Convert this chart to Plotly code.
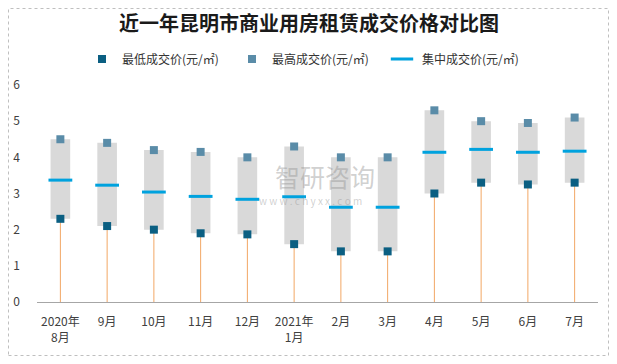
import plotly.graph_objects as go

categories = ["2020年<br>8月", "9月", "10月", "11月", "12月", "2021年<br>1月",
              "2月", "3月", "4月", "5月", "6月", "7月"]
min_price = [2.3, 2.1, 2.0, 1.9, 1.87, 1.6, 1.4, 1.4, 3.0, 3.3, 3.25, 3.3]
max_price = [4.5, 4.4, 4.2, 4.15, 4.0, 4.3, 4.0, 4.0, 5.3, 5.0, 4.95, 5.1]
mid_price = [3.37, 3.23, 3.04, 2.92, 2.84, 2.91, 2.62, 2.62, 4.14, 4.22, 4.14, 4.17]

# page offset of the figure (browser body margin)
OFF = 8
W, H = 617 - 2 * OFF, 364 - 2 * OFF
# plot area in page pixels: x 37..598, y 85..302
ML = 37 - OFF
MR = (617 - OFF) - 598
MT = 85 - OFF
MB = (364 - OFF) - 302
pw = W - ML - MR
ph = H - MT - MB


def px(x):  # page x -> paper x
    return (x - OFF - ML) / pw


def py(y):  # page y -> paper y
    return (H - MB - (y - OFF)) / ph


FONT = "Noto Sans CJK SC"
fig = go.Figure()

sx, sy = [], []
for i, m in enumerate(min_price):
    sx += [i, i, None]
    sy += [0, m, None]
xi = list(range(len(categories)))

fig.add_trace(go.Scatter(x=sx, y=sy, mode="lines", line=dict(color="#F2A765", width=1),
                         showlegend=False, hoverinfo="skip"))

fig.add_trace(go.Bar(x=xi, y=[a - b for a, b in zip(max_price, min_price)],
                     base=min_price, width=0.42, marker=dict(color="#D9D9D9", line=dict(width=0)),
                     showlegend=False, hoverinfo="skip"))

fig.add_trace(go.Scatter(x=xi, y=min_price, mode="markers", name="最低成交价(元/㎡)",
                         marker=dict(symbol="square", size=8, color="#0B5F82")))
fig.add_trace(go.Scatter(x=xi, y=max_price, mode="markers", name="最高成交价(元/㎡)",
                         marker=dict(symbol="square", size=8, color="#5A8CA8")))
fig.add_trace(go.Scatter(x=xi, y=mid_price, mode="markers", name="集中成交价(元/㎡)",
                         marker=dict(symbol="line-ew", size=17,
                                     line=dict(color="#00A2DE", width=3))))

fig.update_layout(
    width=W, height=H,
    margin=dict(l=ML, r=MR, t=MT, b=MB, autoexpand=False),
    paper_bgcolor="white", plot_bgcolor="white",
    font=dict(family=FONT, size=12, color="#404040"),
    title=dict(text="<b>近一年昆明市商业用房租赁成交价格对比图</b>",
               x=(309 - OFF) / W, xanchor="center", y=1 - (24 - OFF) / H, yanchor="middle",
               font=dict(family=FONT, size=20, color="#1a1a1a")),
    legend=dict(orientation="h", x=px(82), xanchor="left",
                y=py(59), yanchor="middle",
                font=dict(family=FONT, size=12, color="#333333"),
                itemwidth=30, entrywidth=105, entrywidthmode="pixels",
                traceorder="normal", bgcolor="rgba(0,0,0,0)"),
    showlegend=True,
)
fig.update_xaxes(range=[-0.5, len(categories) - 0.5], tickmode="array",
                 tickvals=xi, ticktext=categories,
                 showline=True, linecolor="#A6A6A6", linewidth=1, showgrid=False,
                 zeroline=False, ticks="", tickfont=dict(size=12, color="#404040"),
                 ticklabelstandoff=9, automargin=False)
fig.update_yaxes(range=[0, 6], dtick=1, showgrid=False, zeroline=False, showline=False,
                 ticks="", tickfont=dict(size=12, color="#404040"), ticklabelstandoff=16,
                 automargin=False)

fig.add_shape(type="rect", xref="paper", yref="paper",
              x0=px(OFF + 0.5), x1=px(617 - OFF - 0.5),
              y0=py(364 - OFF - 0.5), y1=py(OFF + 0.5),
              line=dict(color="#BFBFBF", width=1, dash="dot"), layer="below")

fig.add_annotation(text="智研咨询", xref="paper", yref="paper",
                   x=px(325), y=py(176), showarrow=False,
                   font=dict(family=FONT, size=25, color="rgba(150,150,150,0.45)"))
fig.add_annotation(text="w w w . c h y x x . c o m", xref="paper", yref="paper",
                   x=px(310), y=py(200), showarrow=False,
                   font=dict(family=FONT, size=10, color="rgba(150,150,150,0.45)"))

fig.write_html("out.html")
